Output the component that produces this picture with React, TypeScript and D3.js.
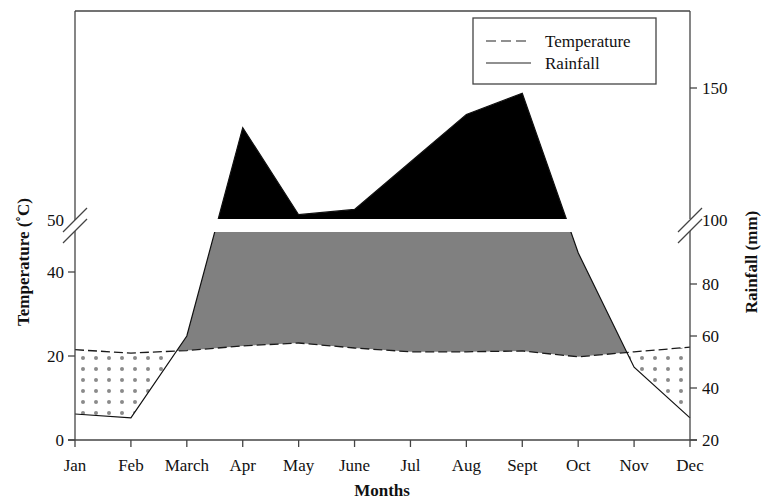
import * as d3 from "d3";
import { useEffect, useRef } from "react";

// monthly climate data
const months = ["Jan", "Feb", "March", "Apr", "May", "June", "Jul", "Aug", "Sept", "Oct", "Nov", "Dec"];
const temperature = [21.5, 20.7, 21.3, 22.4, 23.1, 21.9, 21.0, 21.0, 21.2, 19.8, 21.0, 22.1];
const rainfall = [30, 28.5, 60, 135, 102, 104, 122, 140, 148, 92, 48, 28.5];

const tempTicks = [0, 20, 40];
const rainTicksLow = [20, 40, 60, 80];
const rainTicksHigh = [150];

const FONT = "'Liberation Serif', 'Times New Roman', serif";

const App = () => {
  const svgRef = useRef<SVGSVGElement | null>(null);

  useEffect(() => {
    const svg = d3.select(svgRef.current);
    svg.selectAll("*").remove();

    const left = 75,
      right = 690,
      top = 11,
      bottom = 440,
      breakTop = 220, // upper part starts here (100 mm / 50 C)
      breakLow = 232; // lower part ends here

    const x = d3.scalePoint<string>().domain(months).range([left, right]);
    const yT = d3.scaleLinear().domain([0, 50]).range([bottom, 230]);
    const yRLow = d3.scaleLinear().domain([20, 100]).range([bottom, breakLow]);
    const yRHigh = d3.scaleLinear().domain([100, 150]).range([breakTop, 88]);
    const yR = (v: number) => (v <= 100 ? yRLow(v) : yRHigh(v));

    const idx = d3.range(months.length);
    const defs = svg.append("defs");

    // dotted pattern for dry period
    const pat = defs
      .append("pattern")
      .attr("id", "dots")
      .attr("patternUnits", "userSpaceOnUse")
      .attr("x", 77)
      .attr("y", 352)
      .attr("width", 13)
      .attr("height", 11);
    pat.append("circle").attr("cx", 6).attr("cy", 6).attr("r", 2).attr("fill", "#8a8a8a");

    const belowRain = d3
      .area<number>()
      .x((i) => x(months[i])!)
      .y0(bottom + 5)
      .y1((i) => yR(rainfall[i]));
    const aboveRain = d3
      .area<number>()
      .x((i) => x(months[i])!)
      .y0(0)
      .y1((i) => yR(rainfall[i]));

    defs.append("clipPath").attr("id", "belowRain").append("path").attr("d", belowRain(idx)!);
    defs.append("clipPath").attr("id", "aboveRain").append("path").attr("d", aboveRain(idx)!);
    const gapClip = defs.append("clipPath").attr("id", "noGap");
    gapClip.append("rect").attr("x", 0).attr("y", 0).attr("width", 763).attr("height", breakTop - 1);
    gapClip.append("rect").attr("x", 0).attr("y", breakLow).attr("width", 763).attr("height", 300);

    // humid period (gray) between temperature and capped rainfall
    const humid = d3
      .area<number>()
      .x((i) => x(months[i])!)
      .y0((i) => yT(temperature[i]))
      .y1(breakLow);
    svg.append("path").attr("d", humid(idx)!).attr("fill", "#808080").attr("clip-path", "url(#belowRain)");

    // rainfall above 100 mm (black)
    svg
      .append("rect")
      .attr("x", left)
      .attr("y", top)
      .attr("width", right - left)
      .attr("height", breakTop - 1 - top)
      .attr("fill", "#000")
      .attr("clip-path", "url(#belowRain)");

    // dry period (dots)
    const dry = d3
      .area<number>()
      .x((i) => x(months[i])!)
      .y0((i) => yT(temperature[i]))
      .y1(bottom);
    svg.append("path").attr("d", dry(idx)!).attr("fill", "url(#dots)").attr("clip-path", "url(#aboveRain)");

    // lines
    const tLine = d3
      .line<number>()
      .x((i) => x(months[i])!)
      .y((i) => yT(temperature[i]));
    const rLine = d3
      .line<number>()
      .x((i) => x(months[i])!)
      .y((i) => yR(rainfall[i]));

    svg
      .append("path")
      .attr("d", tLine(idx)!)
      .attr("fill", "none")
      .attr("stroke", "#1a1a1a")
      .attr("stroke-width", 1.3)
      .attr("stroke-dasharray", "9,4");
    svg
      .append("path")
      .attr("d", rLine(idx)!)
      .attr("fill", "none")
      .attr("stroke", "#111")
      .attr("stroke-width", 1.2)
      .attr("clip-path", "url(#noGap)");

    // frame / axes
    const axisCol = "#444";
    const ax = svg.append("g").attr("stroke", axisCol).attr("stroke-width", 1.3).attr("fill", "none");
    ax.append("line").attr("x1", left).attr("x2", right).attr("y1", top).attr("y2", top);
    ax.append("line").attr("x1", left - 7).attr("x2", right + 7).attr("y1", bottom).attr("y2", bottom);
    ax.append("line").attr("x1", left).attr("x2", left).attr("y1", top).attr("y2", breakTop);
    ax.append("line").attr("x1", left).attr("x2", left).attr("y1", breakLow - 1).attr("y2", bottom);
    ax.append("line").attr("x1", right).attr("x2", right).attr("y1", top).attr("y2", breakTop - 1);
    ax.append("line").attr("x1", right).attr("x2", right).attr("y1", breakLow - 1).attr("y2", bottom);

    // break marks
    [left, right].forEach((bx) => {
      [breakTop, breakLow - 1].forEach((by) => {
        ax.append("line")
          .attr("x1", bx - 12)
          .attr("y1", by + 12)
          .attr("x2", bx + 12)
          .attr("y2", by - 12)
          .attr("stroke-width", 1.2);
      });
    });

    // ticks
    tempTicks.forEach((t) => {
      ax.append("line").attr("x1", left - 7).attr("x2", left).attr("y1", yT(t)).attr("y2", yT(t));
    });
    rainTicksLow.forEach((t) => {
      ax.append("line").attr("x1", right).attr("x2", right + 7).attr("y1", yRLow(t)).attr("y2", yRLow(t));
    });
    rainTicksHigh.forEach((t) => {
      ax.append("line").attr("x1", right).attr("x2", right + 7).attr("y1", yRHigh(t)).attr("y2", yRHigh(t));
    });
    months.forEach((m) => {
      ax.append("line").attr("x1", x(m)!).attr("x2", x(m)!).attr("y1", bottom).attr("y2", bottom + 7);
    });

    // tick labels
    const txt = svg.append("g").attr("font-family", FONT).attr("font-size", 17).attr("fill", "#111");
    tempTicks.forEach((t) => {
      txt.append("text").attr("x", left - 11).attr("y", yT(t)).attr("dy", "0.35em").attr("text-anchor", "end").text(t);
    });
    txt.append("text").attr("x", left - 11).attr("y", breakTop).attr("dy", "0.35em").attr("text-anchor", "end").text(50);
    rainTicksLow.forEach((t) => {
      txt.append("text").attr("x", right + 12).attr("y", yRLow(t)).attr("dy", "0.35em").text(t);
    });
    rainTicksHigh.forEach((t) => {
      txt.append("text").attr("x", right + 12).attr("y", yRHigh(t)).attr("dy", "0.35em").text(t);
    });
    txt.append("text").attr("x", right + 12).attr("y", breakTop).attr("dy", "0.35em").text(100);
    months.forEach((m) => {
      txt.append("text").attr("x", x(m)!).attr("y", 471).attr("text-anchor", "middle").text(m);
    });

    // axis titles
    const ttl = svg.append("g").attr("font-family", FONT).attr("font-size", 17).attr("font-weight", "bold").attr("fill", "#111");
    ttl.append("text").attr("x", 382).attr("y", 496).attr("text-anchor", "middle").text("Months");
    ttl
      .append("text")
      .attr("transform", "translate(29,262) rotate(-90)")
      .attr("text-anchor", "middle")
      .text("Temperature (˚C)");
    ttl
      .append("text")
      .attr("transform", "translate(757,262) rotate(-90)")
      .attr("text-anchor", "middle")
      .text("Rainfall (mm)");

    // legend
    const lg = svg.append("g");
    lg.append("rect")
      .attr("x", 473)
      .attr("y", 18)
      .attr("width", 183)
      .attr("height", 66)
      .attr("fill", "#fff")
      .attr("stroke", axisCol)
      .attr("stroke-width", 1.3);
    lg.append("line")
      .attr("x1", 486)
      .attr("x2", 531)
      .attr("y1", 41)
      .attr("y2", 41)
      .attr("stroke", "#222")
      .attr("stroke-width", 1.2)
      .attr("stroke-dasharray", "10,5");
    lg.append("line").attr("x1", 486).attr("x2", 531).attr("y1", 63).attr("y2", 63).attr("stroke", "#222").attr("stroke-width", 1.2);
    const lt = lg.append("g").attr("font-family", FONT).attr("font-size", 17).attr("fill", "#111");
    lt.append("text").attr("x", 545).attr("y", 41).attr("dy", "0.35em").text("Temperature");
    lt.append("text").attr("x", 545).attr("y", 63).attr("dy", "0.35em").text("Rainfall");
  }, []);

  return (
    <svg
      ref={svgRef}
      width={763}
      height={499}
      style={{ position: "absolute", left: 0, top: 0, background: "#fff" }}
    ></svg>
  );
};

export default App;
